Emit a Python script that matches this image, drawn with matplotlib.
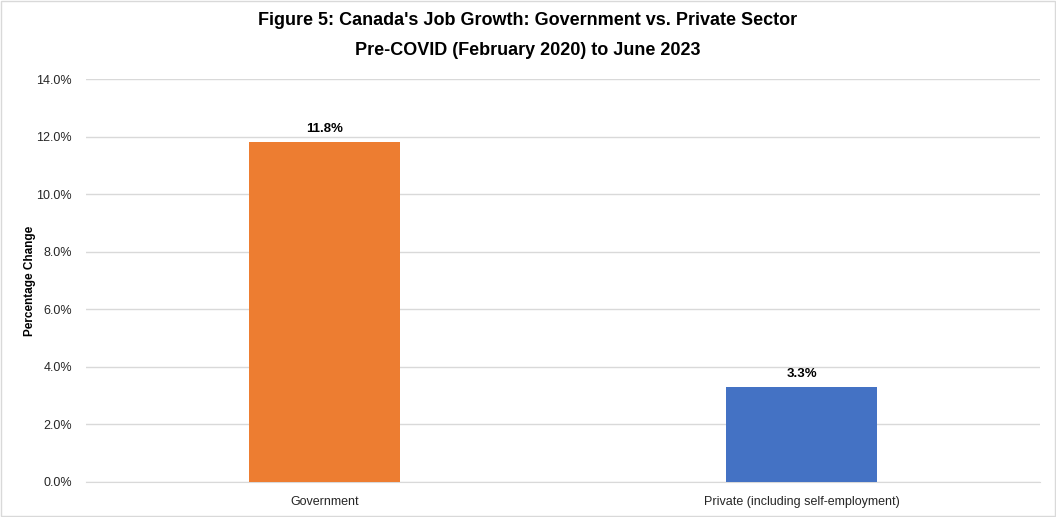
import numpy as np
import matplotlib.pyplot as plt
from matplotlib.ticker import FuncFormatter

categories = ["Government", "Private (including self-employment)"]
values = [11.8, 3.3]
colors = ["#ED7D31", "#4472C4"]
yticks = [0, 2, 4, 6, 8, 10, 12, 14]

plt.rcParams['font.family'] = ['Liberation Sans', 'DejaVu Sans']

fig = plt.figure(figsize=(10.56, 5.17), dpi=100)
ax = fig.add_axes([0.0814, 0.0677, 0.9036, 0.7793])

x = np.arange(len(categories))
ax.bar(x, values, width=0.315, color=colors, zorder=3)
for xi, v in zip(x, values):
    ax.text(xi, v + 0.25, f"{v:.1f}%", ha='center', va='bottom',
            fontsize=9.5, fontweight='bold', color='black')

ax.set_xlim(-0.5, 1.5)
ax.set_ylim(0, 14)
ax.set_yticks(yticks)
ax.yaxis.set_major_formatter(FuncFormatter(lambda v, p: f"{v:.1f}%"))
ax.set_xticks(x)
ax.set_xticklabels(categories)
ax.tick_params(axis='both', length=0, labelsize=9, colors='#262626')
ax.tick_params(axis='x', pad=10)
ax.tick_params(axis='y', pad=10)
ax.grid(axis='y', color='#D9D9D9', linewidth=1, zorder=0)
for s in ['top', 'right', 'left']:
    ax.spines[s].set_visible(False)
ax.spines['bottom'].set_color('#D9D9D9')
ax.set_ylabel("Percentage Change", fontsize=8.5, fontweight='bold')
ax.yaxis.set_label_coords(-0.052, 0.5)

fig.text(0.5, 0.96, "Figure 5: Canada's Job Growth: Government vs. Private Sector",
         ha='center', va='center', fontsize=13, fontweight='bold')
fig.text(0.5, 0.903, "Pre-COVID (February 2020) to June 2023",
         ha='center', va='center', fontsize=13, fontweight='bold')

fig.patches.append(plt.Rectangle((0.001, 0.001), 0.998, 0.997, transform=fig.transFigure,
                                 fill=False, edgecolor='#D9D9D9', linewidth=1))

fig.savefig("out.png", dpi=100)
